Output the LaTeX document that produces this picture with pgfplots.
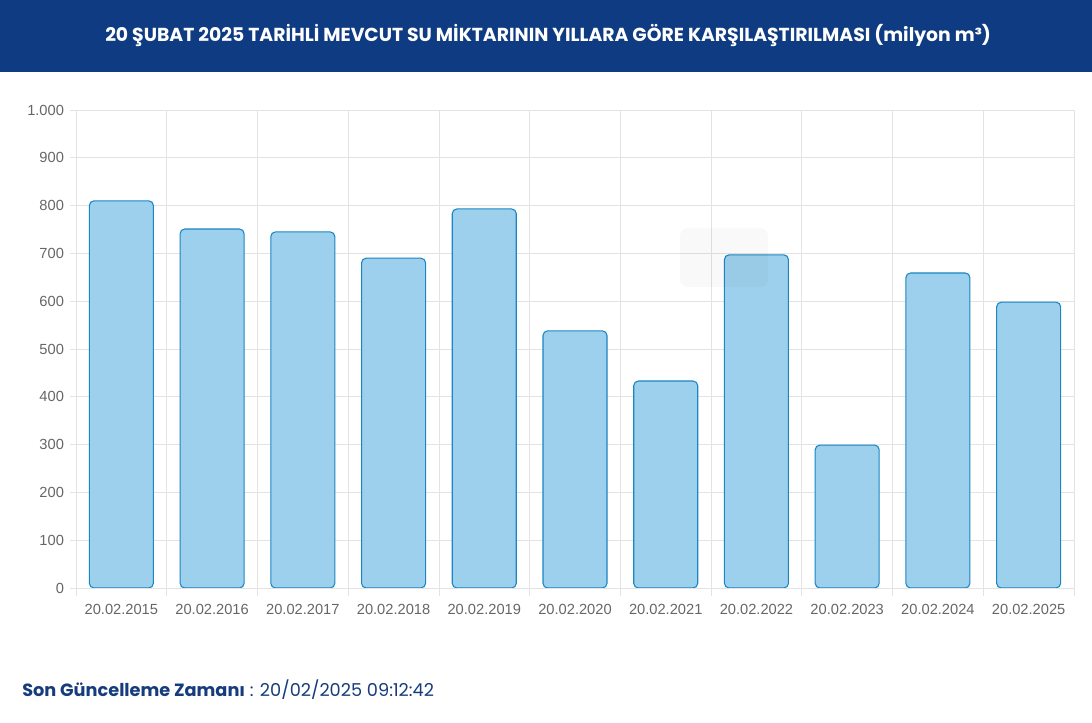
\documentclass[border=0pt]{standalone}
\usepackage{pgfplots}
\pgfplotsset{compat=1.18}
\usepackage{fontspec}
\setmainfont{Liberation Sans}
\newfontfamily\pop{Poppins}
\definecolor{titleblue}{HTML}{0F3B82}
\definecolor{footblue}{HTML}{163C7C}
\definecolor{barfill}{HTML}{9DD0EC}
\definecolor{baredge}{HTML}{1A86C4}
\definecolor{gridc}{HTML}{E3E3E3}
\definecolor{tickc}{HTML}{666666}
\begin{document}
\begin{tikzpicture}[x=1pt,y=1pt]
\useasboundingbox (0,0) rectangle (819,542.25);
\fill[titleblue] (0,488.25) rectangle (819,542.25);
\node[text=white, font=\pop\fontsize{14.1}{16}\selectfont\bfseries] at (411,515.25) {20 ŞUBAT 2025 TARİHLİ MEVCUT SU MİKTARININ YILLARA GÖRE KARŞILAŞTIRILMASI (milyon m³)};
\begin{axis}[
  at={(57pt,101.25pt)}, anchor=south west,
  scale only axis, width=748.5pt, height=358.5pt,
  xmin=-0.5, xmax=10.5, ymin=0, ymax=1000,
  ytick={0,100,...,1000},
  xtick={0,...,10},
  xticklabels={20.02.2015,20.02.2016,20.02.2017,20.02.2018,20.02.2019,20.02.2020,20.02.2021,20.02.2022,20.02.2023,20.02.2024,20.02.2025},
  minor xtick={-0.5,0.5,...,10.5},
  major x tick style={draw=none},
  xtick pos=bottom, ytick pos=left,
  xminorgrids, ymajorgrids,
  grid style={gridc, line width=0.6pt},
  minor grid style={gridc, line width=0.6pt},
  axis line style={gridc, line width=0.6pt},
  tick style={gridc, line width=0.6pt},
  tick align=outside,
  major tick length=4.5pt, minor tick length=6pt,
  ticklabel style={font=\fontsize{11}{13}\selectfont, text=tickc},
  /pgf/number format/assume math mode=true,
  /pgf/number format/.cd, 1000 sep={.},
  /pgfplots/.cd,
  yticklabel style={xshift=-1pt},
  xticklabel style={yshift=-4pt},
]
\addplot[ybar, bar width=48pt, fill=barfill, draw=baredge, line width=0.8pt, rounded corners=3.5pt]
coordinates {(0,810) (1,751) (2,745) (3,690) (4,793) (5,538) (6,433) (7,697) (8,299) (9,659) (10,598)};
\end{axis}
\fill[black, opacity=0.025, rounded corners=6pt] (510,327) rectangle (576,371.25);
\node[anchor=base west, text=footblue, font=\pop\fontsize{13.3}{15}\selectfont, inner sep=0pt] at (16.5,19.5) {\textbf{Son Güncelleme Zamanı} : 20/02/2025 09:12:42};
\end{tikzpicture}
\end{document}
